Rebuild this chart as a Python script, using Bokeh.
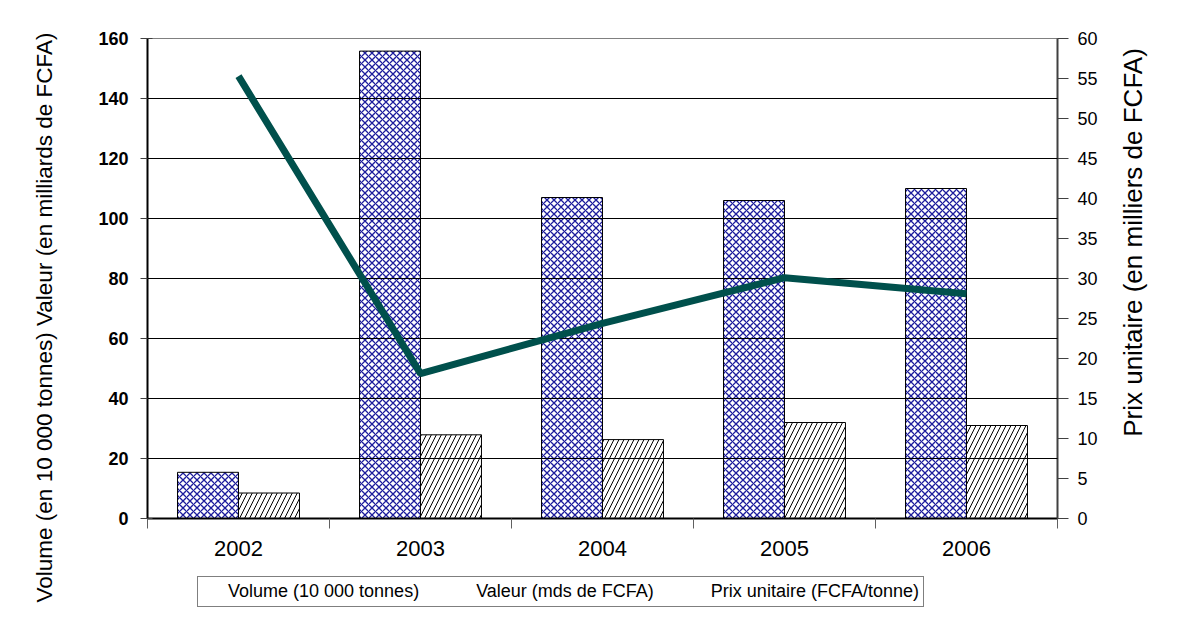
import math
from bokeh.plotting import figure
from bokeh.layouts import row, column
from bokeh.models import (ColumnDataSource, Range1d, LinearAxis, FixedTicker,
                          Legend, LegendItem, Label, CDSView, IndexFilter)
from bokeh.transform import dodge
from bokeh.embed import file_html
from bokeh.resources import INLINE

# ---- data ----
years = [2002, 2003, 2004, 2005, 2006]
volume = [15.4, 155.8, 107.0, 106.0, 110.0]     # 10 000 tonnes
valeur = [8.5, 27.9, 26.3, 32.0, 31.0]          # mds de FCFA
prix = [55.3, 18.1, 24.4, 30.1, 28.1]           # milliers de FCFA
left_ticks = [0, 20, 40, 60, 80, 100, 120, 140, 160]
right_ticks = [0, 5, 10, 15, 20, 25, 30, 35, 40, 45, 50, 55, 60]

left_title = "Volume (en 10 000 tonnes) Valeur (en milliards de FCFA)"
right_title = "Prix unitaire (en milliers de FCFA)"
labels = ["Volume (10 000 tonnes)", "Valeur (mds de FCFA)", "Prix unitaire (FCFA/tonne)"]

FONT = "Liberation Sans"
LINE_COLOR = "#00504C"
HATCH_BLUE = "#1C1C9C"
TOTAL_W, TOTAL_H = 1169, 625
W_LEFT, W_RIGHT = 60, 64
W_MAIN = TOTAL_W - W_LEFT - W_RIGHT
H_MAIN = 565
H_LEG = TOTAL_H - H_MAIN

VOL_STYLE = dict(fill_color="white", line_color="black", line_width=1,
                 hatch_pattern="diagonal_cross", hatch_color=HATCH_BLUE,
                 hatch_scale=7, hatch_weight=1.3)
VAL_STYLE = dict(fill_color="white", line_color="black", line_width=1,
                 hatch_pattern="right_diagonal_line", hatch_color="black",
                 hatch_scale=10, hatch_weight=1)

src = ColumnDataSource(dict(year=years, volume=volume, valeur=valeur, prix=prix))

# ---------------- main chart ----------------
p = figure(width=W_MAIN, height=H_MAIN, output_backend="svg", toolbar_location=None,
           x_range=Range1d(years[0] - 0.5, years[-1] + 0.5),
           y_range=Range1d(left_ticks[0], left_ticks[-1]),
           min_border_left=147 - W_LEFT, min_border_right=W_LEFT + W_MAIN - 1057,
           min_border_top=38, min_border_bottom=H_MAIN - 518)
p.extra_y_ranges = {"prix": Range1d(right_ticks[0], right_ticks[-1])}

p.outline_line_color = "#808080"
p.outline_line_width = 1
p.xgrid.visible = False
p.ygrid.ticker = FixedTicker(ticks=left_ticks)
p.ygrid.grid_line_color = "black"
p.ygrid.grid_line_width = 1
p.ygrid.level = "guide"

bw = 0.335
p.vbar(x=dodge("year", -bw / 2, range=p.x_range), top="volume", width=bw, source=src, **VOL_STYLE)
p.vbar(x=dodge("year", bw / 2, range=p.x_range), top="valeur", width=bw, source=src, **VAL_STYLE)
r_line = p.line(x="year", y="prix", source=src, y_range_name="prix",
                line_color=LINE_COLOR, line_width=7)
r_line.level = "annotation"

# x axis
xa = p.xaxis[0]
xa.ticker = FixedTicker(ticks=years, minor_ticks=[y - 0.5 for y in years] + [years[-1] + 0.5])
xa.major_tick_in = 0
xa.major_tick_out = 0
xa.minor_tick_in = 0
xa.minor_tick_out = 10
xa.minor_tick_line_color = "#606060"
xa.axis_line_color = "black"
xa.axis_line_width = 2
xa.major_label_standoff = 12
xa.major_label_text_font = FONT
xa.major_label_text_font_size = "22px"
xa.major_label_text_color = "black"

# left axis
ya = p.yaxis[0]
ya.ticker = FixedTicker(ticks=left_ticks)
ya.major_tick_in = 5
ya.major_tick_out = 7
ya.minor_tick_line_color = None
ya.major_tick_line_color = "#404040"
ya.axis_line_color = "black"
ya.axis_line_width = 2
ya.major_label_standoff = 12
ya.major_label_text_font = FONT
ya.major_label_text_font_size = "18px"
ya.major_label_text_font_style = "bold"
ya.major_label_text_color = "black"

# right axis
ra = LinearAxis(y_range_name="prix", ticker=FixedTicker(ticks=right_ticks))
ra.major_tick_in = 0
ra.major_tick_out = 11
ra.minor_tick_line_color = None
ra.major_tick_line_color = "#404040"
ra.axis_line_color = "#404040"
ra.axis_line_width = 2
ra.major_label_standoff = 9
ra.major_label_text_font = FONT
ra.major_label_text_font_size = "18px"
ra.major_label_text_color = "black"
p.add_layout(ra, "right")


def blank(width, height):
    f = figure(width=width, height=height, output_backend="svg", toolbar_location=None,
               x_axis_type=None, y_axis_type=None,
               x_range=Range1d(0, 1), y_range=Range1d(0, 1),
               min_border_left=0, min_border_right=0, min_border_top=0, min_border_bottom=0)
    f.outline_line_color = None
    f.grid.visible = False
    return f


# ---------------- axis titles (vertical, bottom-to-top) ----------------
p_left = blank(W_LEFT, TOTAL_H)
p_left.add_layout(Label(x=44, y=TOTAL_H - 317, x_units="screen", y_units="screen",
                        text=left_title, angle=math.pi / 2, text_align="center",
                        text_baseline="middle", text_font=FONT, text_font_size="22.5px",
                        text_color="black"))
p_right = blank(W_RIGHT, TOTAL_H)
p_right.add_layout(Label(x=1132 - W_LEFT - W_MAIN, y=TOTAL_H - 242, x_units="screen",
                         y_units="screen", text=right_title, angle=math.pi / 2,
                         text_align="center", text_baseline="middle", text_font=FONT,
                         text_font_size="26px", text_color="black"))

# ---------------- legend strip ----------------
# legend proxies share the chart data but show none of it (empty view):
# only their legend swatches are drawn
p_leg = blank(W_MAIN, H_LEG)
hide = CDSView(filter=IndexFilter(indices=[]))
g_vol = p_leg.vbar(x="year", top="volume", width=bw, source=src, view=hide, **VOL_STYLE)
g_val = p_leg.vbar(x="year", top="valeur", width=bw, source=src, view=hide, **VAL_STYLE)
g_prix = p_leg.scatter(x="year", y="prix", source=src, view=hide, marker="square",
                       fill_color=LINE_COLOR, line_color="black", line_width=1)
legend = Legend(items=[LegendItem(label=labels[0], renderers=[g_vol]),
                       LegendItem(label=labels[1], renderers=[g_val]),
                       LegendItem(label=labels[2], renderers=[g_prix])],
                orientation="horizontal", location=(197 - 147, TOTAL_H - 607))
legend.border_line_color = "black"
legend.border_line_width = 1
legend.background_fill_color = "white"
legend.background_fill_alpha = 1
legend.label_text_font = FONT
legend.label_text_font_size = "18px"
legend.label_text_color = "black"
legend.glyph_width = 15
legend.glyph_height = 15
legend.label_standoff = 11
legend.spacing = 31
legend.padding = 4
legend.margin = 0
p_leg.add_layout(legend)

layout = row(p_left, column(p, p_leg), p_right)

open("out.html", "w").write(file_html(layout, INLINE))
